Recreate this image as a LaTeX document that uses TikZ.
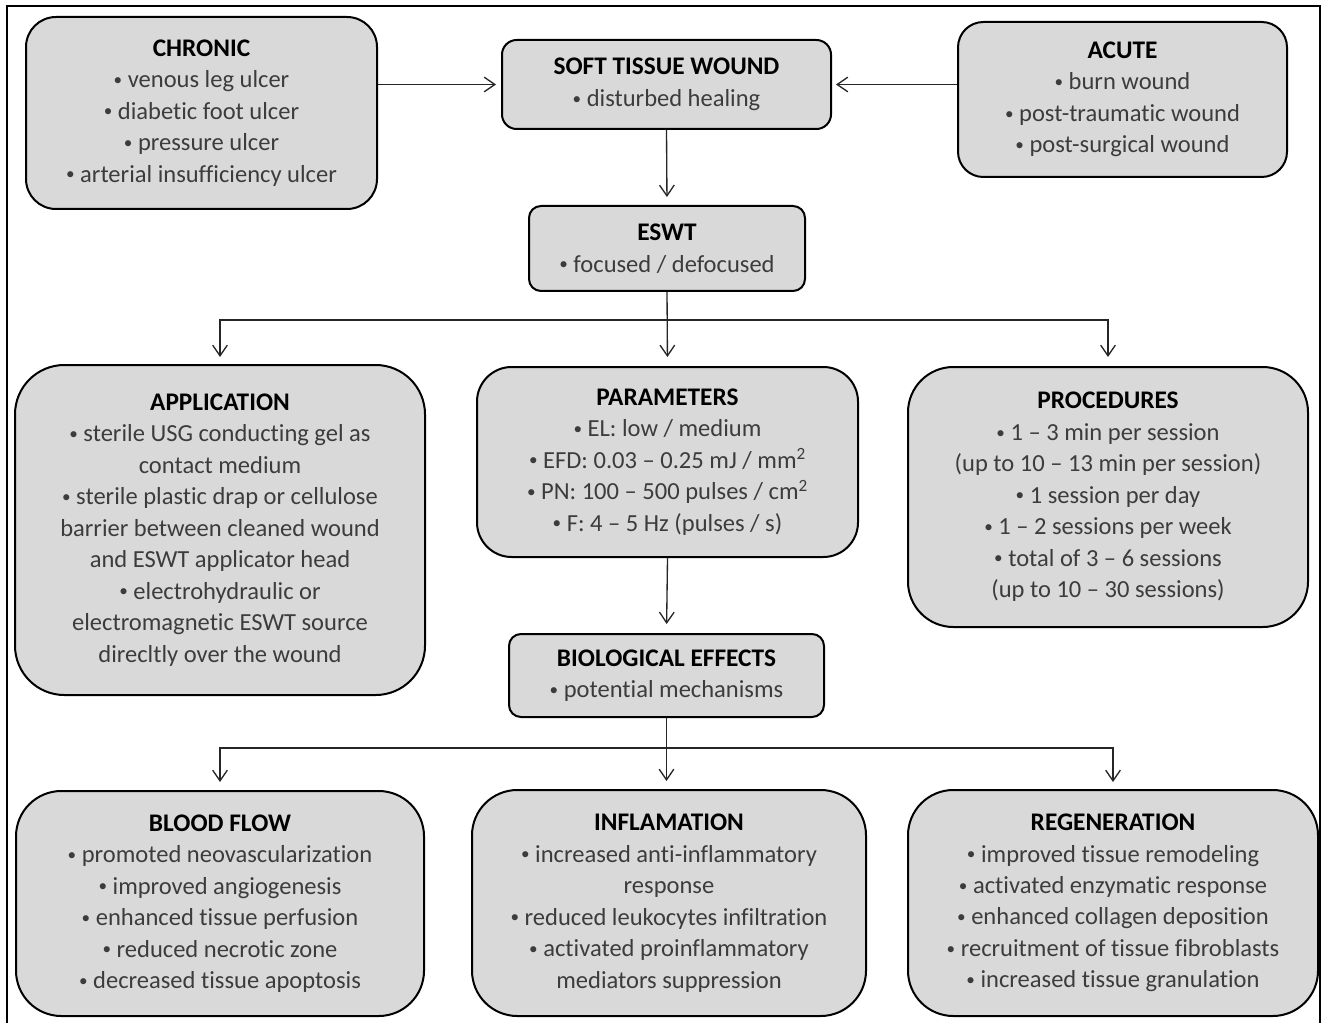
\documentclass[tikz,border=0pt]{standalone}
\usepackage{fontspec}
\setmainfont[Ligatures=NoCommon]{Carlito}
\usetikzlibrary{arrows.meta}

\definecolor{boxfill}{RGB}{217,217,217}
\definecolor{itemgray}{RGB}{60,60,60}
\newcommand{\boxhead}[1]{{\color{black}\bfseries\fontsize{19}{23.6}\selectfont #1}}
\newcommand{\bul}{\raisebox{0.2ex}{\scalebox{0.7}{\textbullet}}\ }

\tikzset{every picture/.style={line width=0.75pt}}
\tikzset{
  woundbox/.style={draw=black, line width=1.5pt, fill=boxfill, align=center,
    inner sep=0pt, text=itemgray, font=\fontsize{18.4}{23.6}\selectfont},
  flowarrow/.style={-{Straight Barb[length=8pt,width=11pt]}, line width=1pt, draw=black!85},
}

\begin{document}
\begin{tikzpicture}[x=0.75pt,y=0.75pt,yscale=-1,xscale=1]
\useasboundingbox (0,0) rectangle (1326,1023);

%Outer frame
\draw [line width=2pt] (7,6) rectangle (1320,1035);

% Top row
\node [woundbox, minimum width=263.25pt, minimum height=144pt, rounded corners=22.5pt] (chronic) at (201.5,113)
  {\boxhead{CHRONIC}\\ \bul venous leg ulcer\\ \bul diabetic foot ulcer\\ \bul pressure ulcer\\ \bul arterial insufficiency ulcer};
\node [woundbox, minimum width=246.75pt, minimum height=66.75pt, rounded corners=11pt] (soft) at (666.5,84.5)
  {\boxhead{SOFT TISSUE WOUND}\\ \bul disturbed healing};
\node [woundbox, minimum width=246.75pt, minimum height=116.25pt, rounded corners=19pt] (acute) at (1122.5,99.5)
  {\boxhead{ACUTE}\\ \bul burn wound\\ \bul post-traumatic wound\\ \bul post-surgical wound};

% ESWT
\node [woundbox, minimum width=207pt, minimum height=63.75pt, rounded corners=9pt] (eswt) at (667,248.5)
  {\boxhead{ESWT}\\ \bul focused / defocused};

% Middle row
\node [woundbox, minimum width=307.5pt, minimum height=247.5pt, rounded corners=37pt] (app) at (220,530)
  {\boxhead{APPLICATION}\\ \bul sterile USG conducting gel as\\ contact medium\\ \bul sterile plastic drap or cellulose\\ barrier between cleaned wound\\ and ESWT applicator head\\ \bul electrohydraulic or\\ electromagnetic ESWT source\\ direcltly over the wound};
\node [woundbox, minimum width=285.75pt, minimum height=142.5pt, rounded corners=26pt] (par) at (667.5,462)
  {\boxhead{PARAMETERS}\\ \bul EL: low / medium\\ \bul EFD: 0.03 -- 0.25 mJ / mm\textsuperscript{2}\\ \bul PN: 100 -- 500 pulses / cm\textsuperscript{2}\\ \bul F: 4 -- 5 Hz (pulses / s)};
\node [woundbox, minimum width=300pt, minimum height=195pt, rounded corners=34pt] (proc) at (1108,497)
  {\boxhead{PROCEDURES}\\ \bul 1 -- 3 min per session\\ (up to 10 -- 13 min per session)\\ \bul 1 session per day\\ \bul 1 -- 2 sessions per week\\ \bul total of 3 -- 6 sessions\\ (up to 10 -- 30 sessions)};

% Biological effects
\node [woundbox, minimum width=236.25pt, minimum height=62.25pt, rounded corners=9pt] (bio) at (666.5,675.5)
  {\boxhead{BIOLOGICAL EFFECTS}\\ \bul potential mechanisms};

% Bottom row
\node [woundbox, minimum width=306pt, minimum height=168.75pt, rounded corners=34pt] (blood) at (220,903.5)
  {\boxhead{BLOOD FLOW}\\ \bul promoted neovascularization\\ \bul improved angiogenesis\\ \bul enhanced tissue perfusion\\ \bul reduced necrotic zone\\ \bul decreased tissue apoptosis};
\node [woundbox, minimum width=295.5pt, minimum height=169.5pt, rounded corners=34pt] (infl) at (669,903)
  {\boxhead{INFLAMATION}\\ \bul increased anti-inflammatory\\ response\\ \bul reduced leukocytes infiltration\\ \bul activated proinflammatory\\ mediators suppression};
\node [woundbox, minimum width=307.5pt, minimum height=169.5pt, rounded corners=34pt] (regen) at (1113,903)
  {\boxhead{REGENERATION}\\ \bul improved tissue remodeling\\ \bul activated enzymatic response\\ \bul enhanced collagen deposition\\ \bul recruitment of tissue fibroblasts\\ \bul increased tissue granulation};

% Connectors
\draw [flowarrow, shorten >=3.75pt] (chronic.east |- soft.west) -- (soft.west);
\draw [flowarrow, shorten >=3pt] (acute.west |- soft.east) -- (soft.east);
\draw [flowarrow, shorten >=6pt] (soft.south) -- (eswt.north);

\coordinate (fork1) at (667,320);
\draw [flowarrow, shorten >=6.75pt] (eswt.south) -- (par.north);
\draw [flowarrow, shorten >=5.25pt] (fork1) -| (app.north);
\draw [flowarrow, shorten >=6.75pt] (fork1) -| (proc.north);

\draw [flowarrow, shorten >=6.75pt] (par.south) -- (bio.north);

\coordinate (fork2) at (667,748);
\draw [flowarrow, shorten >=6pt] (bio.south) -- (bio.south |- infl.north);
\draw [flowarrow, shorten >=6pt] (fork2) -| (blood.north);
\draw [flowarrow, shorten >=5.25pt] (fork2) -| (regen.north);

\end{tikzpicture}
\end{document}
